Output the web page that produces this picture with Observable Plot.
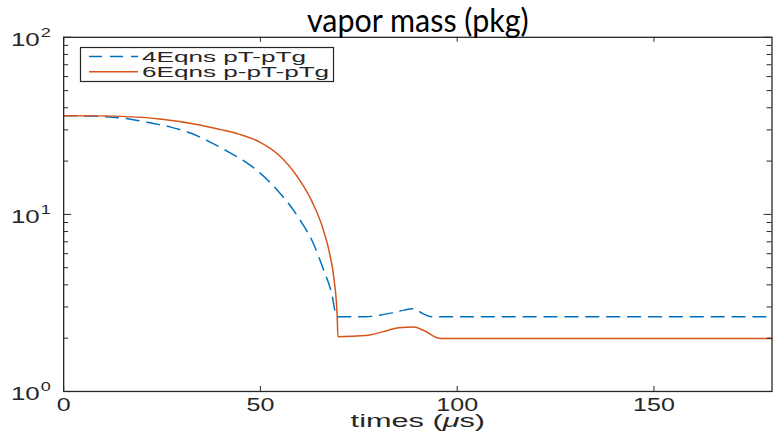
<!DOCTYPE html>
<html><head><meta charset="utf-8">
<script src="https://cdn.jsdelivr.net/npm/d3@7"></script>
<script src="https://cdn.jsdelivr.net/npm/@observablehq/plot@0.6"></script>
<style>
body{margin:0;background:#fff;overflow:hidden}
#wrap{position:relative;width:773px;height:434px;overflow:hidden;background:#fff}
#wrap svg{position:absolute;left:0;top:0}
</style></head><body><div id="wrap"></div>
<script>
const title = "vapor mass (pkg)";
const xLabel = "times (μs)";
const seriesNames = ["4Eqns pT-pTg", "6Eqns p-pT-pTg"];
const seriesColors = ["#0072BD", "#D95319"];
const xTicks = [0, 50, 100, 150];
const yMajor = [1, 10, 100];
const yMajorExp = ["0", "1", "2"];
const yMinor = [2, 3, 4, 5, 6, 7, 8, 9, 20, 30, 40, 50, 60, 70, 80, 90];

const time4 = [0, 4.2, 14.3, 21.9, 27, 32, 37.1, 42.2, 47.2, 51.5, 54.8, 58.1, 60.6, 63.2, 65.7, 68, 69.5, 76.8, 79.5, 83.5, 86.5, 89, 91.3, 93.5, 180];
const mass4 = [36.1, 36, 35.1, 32.9, 31.2, 28.9, 25.7, 22.3, 19.1, 15.9, 13.3, 10.8, 8.9, 7.05, 5.1, 3.65, 2.64, 2.64, 2.68, 2.78, 2.88, 2.93, 2.75, 2.64, 2.64];
const time6 = [0, 9.2, 24.4, 34.6, 39.6, 44.7, 49.7, 54.8, 59.9, 63.2, 65.7, 67.5, 68.7, 69.5, 69.7, 76.8, 81, 85.2, 89, 91.5, 95.8, 180];
const mass6 = [36.1, 36, 34.6, 32.0, 30.2, 28.3, 25.7, 21.5, 15.7, 11.7, 8.56, 6.12, 4.31, 2.67, 2.04, 2.07, 2.17, 2.29, 2.31, 2.21, 1.99, 1.99];

const W = 777, H = 434, mL = 63.5, mR = 1.5, mT = 37, mB = 41;
const iW = W - mL - mR, iH = H - mT - mB;
const ink = "#262626";
const data4 = time4.map((t, i) => ({t, m: mass4[i]}));
const data6 = time6.map((t, i) => ({t, m: mass6[i]}));
const dash = "13,8";

const chart = Plot.plot({
  width: W, height: H, marginLeft: mL, marginRight: mR, marginTop: mT, marginBottom: mB,
  style: {fontFamily: "Liberation Sans", background: "transparent", color: ink, overflow: "visible"},
  x: {domain: [0, 180], label: null, axis: null},
  y: {type: "log", domain: [1, 100], axis: null, label: null},
  marks: [
    Plot.line(data4, {x: "t", y: "m", stroke: seriesColors[0], strokeWidth: 1.5, strokeDasharray: dash, curve: "monotone-x"}),
    Plot.line(data6, {x: "t", y: "m", stroke: seriesColors[1], strokeWidth: 1.5, curve: "monotone-x"}),
    Plot.frame({stroke: ink, strokeWidth: 1.3}),
    Plot.tickX(xTicks, {x: d => d, stroke: ink, insetTop: iH - 5}),
    Plot.tickX(xTicks, {x: d => d, stroke: ink, insetBottom: iH - 5}),
    Plot.tickY(yMajor, {y: d => d, stroke: ink, insetRight: iW - 8}),
    Plot.tickY(yMajor, {y: d => d, stroke: ink, insetLeft: iW - 8}),
    Plot.tickY(yMinor, {y: d => d, stroke: ink, insetRight: iW - 5}),
    Plot.tickY(yMinor, {y: d => d, stroke: ink, insetLeft: iW - 5}),
    Plot.text(xTicks, {x: d => d, text: d => String(d), frameAnchor: "bottom", lineAnchor: "middle", dy: 13.8, fontSize: 18, fill: ink}),
    Plot.text(yMajor, {y: d => d, frameAnchor: "left", lineAnchor: "middle", text: () => "10", textAnchor: "end", dx: -24, dy: 2.7, fontSize: 18, fill: ink}),
    Plot.text(yMajor, {y: d => d, frameAnchor: "left", lineAnchor: "middle", text: (d, i) => yMajorExp[i], textAnchor: "start", dx: -23, dy: -4.2, fontSize: 13, fill: ink}),
    Plot.text([xLabel], {frameAnchor: "bottom", lineAnchor: "middle", text: d => d, dy: 30, fontSize: 18.5, fill: ink}),
    Plot.text([title], {frameAnchor: "top", lineAnchor: "middle", text: d => d, dy: -15.6, fontSize: 32, fontFamily: "Lato", fill: "#000"})
  ]
});
document.getElementById("wrap").appendChild(chart);

function stretch(nodes, s) {
  nodes.forEach(node => {
    const t = node.getAttribute("transform") || "";
    node.setAttribute("transform", `${t} scale(${s},1)`);
  });
}
const textGroups = Array.from(chart.querySelectorAll("g")).filter(g => g.querySelector(":scope > text"));
const [gXT, gYB, gYE, gXL, gT] = textGroups.map(g => Array.from(g.querySelectorAll(":scope > text")));
const len = n => n.getComputedTextLength();
// widths
const numScale = 42 / len(gXT[2]);
stretch(gXT, numScale);
stretch(gYB, 29 / len(gYB[0]));
stretch(gYE, numScale);
stretch(gXL, 136 / len(gXL[0]));
stretch(gT, 223 / len(gT[0]));
gXL.forEach(node => {
  const txt = node.textContent;
  const i = txt.indexOf("μ");
  if (i >= 0) {
    node.textContent = "";
    const s = d3.select(node);
    s.append("tspan").text(txt.slice(0, i));
    s.append("tspan").attr("font-style", "italic").text("μ");
    s.append("tspan").text(txt.slice(i + 1));
  }
});

// legend
const lg = d3.select("#wrap").append("svg")
  .attr("width", 256).attr("height", 37)
  .style("left", "79px").style("top", "46px");
lg.append("rect").attr("x", 1.5).attr("y", 1.5).attr("width", 253).attr("height", 34)
  .attr("fill", "#fff").attr("stroke", ink).attr("stroke-width", 1.2);
const lgTexts = [];
seriesNames.forEach((name, i) => {
  const cy = 10.5 + i * 15.3;
  lg.append("line").attr("x1", 10).attr("x2", 59).attr("y1", cy).attr("y2", cy)
    .attr("stroke", seriesColors[i]).attr("stroke-width", 1.5)
    .attr("stroke-dasharray", i === 0 ? dash : null);
  lgTexts.push(lg.append("text")
    .attr("font-family", "Liberation Sans").attr("font-size", 15).attr("fill", ink)
    .text(name).node());
});
const lgScale = 164 / lgTexts[0].getComputedTextLength();
lgTexts.forEach((n, i) => n.setAttribute("transform", `translate(63,${10.5 + i * 15.3 + 5.2}) scale(${lgScale},1)`));
</script></body></html>
